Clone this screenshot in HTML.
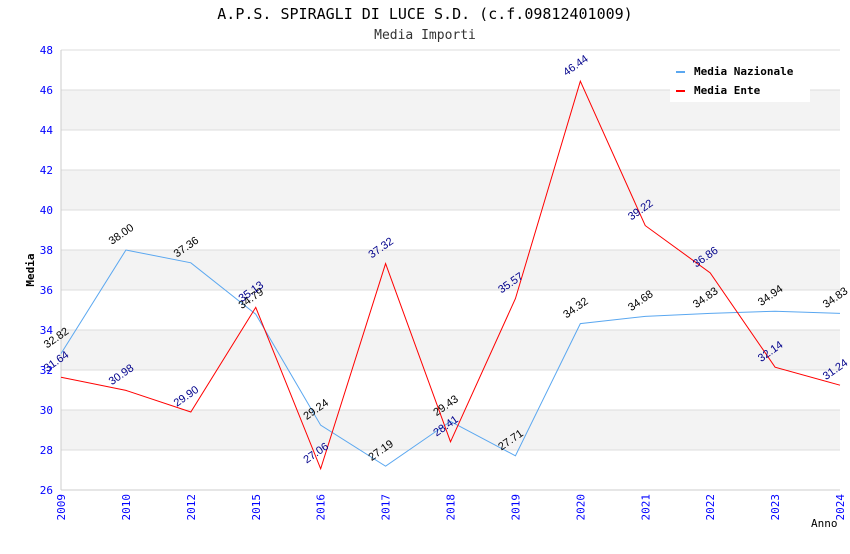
<!DOCTYPE html>
<html><head><meta charset="utf-8">
<style>
body{margin:0;background:#fff;width:850px;height:550px;overflow:hidden;font-family:"DejaVu Sans Mono","Liberation Mono",monospace;}
</style></head>
<body>
<svg id="chart" width="850" height="550" xmlns="http://www.w3.org/2000/svg">
<text x="425" y="19" text-anchor="middle" font-size="15" fill="#000" font-family="DejaVu Sans Mono, monospace">A.P.S. SPIRAGLI DI LUCE S.D. (c.f.09812401009)</text>
<text x="425" y="39" text-anchor="middle" font-size="13" fill="#333" font-family="DejaVu Sans Mono, monospace">Media Importi</text>
<g id="grid"></g>
<g id="axes"></g>
<g id="series"></g>
<g id="legend">
<rect x="670" y="60" width="140" height="42" fill="#fff"/>
<rect x="676" y="71" width="9" height="2" fill="#5aa7f0"/>
<text x="694" y="75" font-size="11" font-weight="bold" font-family="DejaVu Sans Mono, monospace">Media Nazionale</text>
<rect x="676" y="90" width="9" height="2" fill="#f00"/>
<text x="694" y="94" font-size="11" font-weight="bold" font-family="DejaVu Sans Mono, monospace">Media Ente</text>
</g>
<text x="34" y="270" font-size="11" font-weight="bold" text-anchor="middle" transform="rotate(-90 34 270)" font-family="DejaVu Sans Mono, monospace">Media</text>
<text x="811" y="527" font-size="11" font-family="DejaVu Sans Mono, monospace">Anno</text>
</svg>
<script>
const categories=["2009","2010","2012","2015","2016","2017","2018","2019","2020","2021","2022","2023","2024"];
const nazionale=[32.82,38.00,37.36,34.79,29.24,27.19,29.43,27.71,34.32,34.68,34.83,34.94,34.83];
const ente=[31.64,30.98,29.90,35.13,27.06,37.32,28.41,35.57,46.44,39.22,36.86,32.14,31.24];
const yTicks=[26,28,30,32,34,36,38,40,42,44,46,48];
const NS="http://www.w3.org/2000/svg";
const L=61,R=840,T=50,B=490,yMin=26,yMax=48;
function x(i){return L+(R-L)*i/(categories.length-1);}
function y(v){return B-(v-yMin)/(yMax-yMin)*(B-T);}
function mk(tag,attrs,parent){const e=document.createElementNS(NS,tag);for(const k in attrs)e.setAttribute(k,attrs[k]);parent.appendChild(e);return e;}
const grid=document.getElementById('grid'),axes=document.getElementById('axes'),series=document.getElementById('series');
for(let i=0;i<yTicks.length-1;i++){
  if(i%2===1){const r=mk('rect',{x:L,y:y(yTicks[i+1]),width:R-L,height:y(yTicks[i])-y(yTicks[i+1]),fill:'#f3f3f3'},grid);
  
  }
}
yTicks.forEach(t=>{
  const l=mk('line',{x1:L,x2:R,y1:y(t),y2:y(t),stroke:'#ddd','stroke-width':1},grid);
  
  
  const tx=mk('text',{x:L-8,y:y(t)+4,'text-anchor':'end','font-size':11,fill:'#00f','font-family':'DejaVu Sans Mono, monospace'},axes);
  tx.textContent=t;
  
  
});
mk('line',{x1:L,x2:L,y1:T,y2:B,stroke:'#ccc'},axes);
mk('line',{x1:L,x2:R,y1:B,y2:B,stroke:'#ccc'},axes);
categories.forEach((c,i)=>{
  const tx=mk('text',{x:x(i)+4,y:B+4,'text-anchor':'end','font-size':11,fill:'#00f','font-family':'DejaVu Sans Mono, monospace',transform:`rotate(-90 ${x(i)+4} ${B+4})`},axes);
  tx.textContent=c;
  
  
});
function draw(vals,color,labColor,name){
  const p=mk('polyline',{points:vals.map((v,i)=>x(i)+','+y(v)).join(' '),fill:'none',stroke:color,'stroke-width':1},series);
  
  
  vals.forEach((v,i)=>{
    const px=x(i)-14,py=y(v)-5;
    const t=mk('text',{x:px,y:py,'font-size':11,fill:labColor,'font-family':'Liberation Sans, sans-serif',transform:`rotate(-35 ${px} ${py})`},series);
    t.textContent=v.toFixed(2);
    
    
  });
}
draw(nazionale,'#5aa7f0','#000','nazionale');
draw(ente,'#f00','#00008b','ente');
</script>
</body></html>
